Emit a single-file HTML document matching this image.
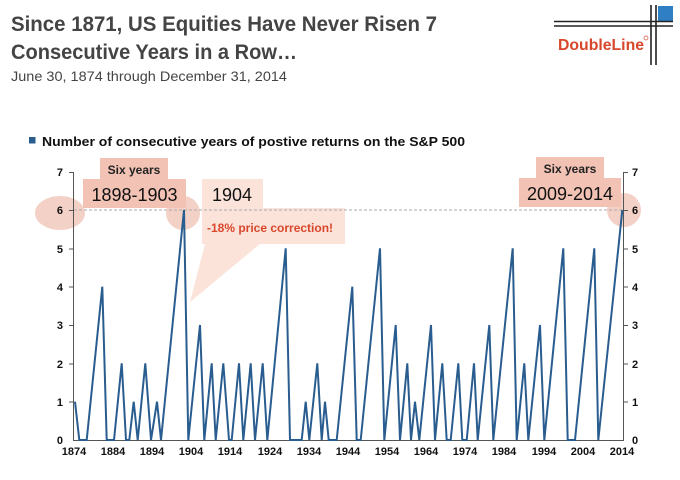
<!DOCTYPE html>
<html><head><meta charset="utf-8"><style>
html,body{margin:0;padding:0;background:#fff;}
svg{display:block;font-family:"Liberation Sans",sans-serif;}
</style></head><body>
<svg width="680" height="480" viewBox="0 0 680 480" xmlns="http://www.w3.org/2000/svg">
<!-- Title -->
<text x="11" y="31" font-size="21" font-weight="bold" fill="#444" textLength="426" lengthAdjust="spacingAndGlyphs">Since 1871, US Equities Have Never Risen 7</text>
<text x="11" y="59" font-size="21" font-weight="bold" fill="#444" textLength="286" lengthAdjust="spacingAndGlyphs">Consecutive Years in a Row…</text>
<text x="11" y="81" font-size="14" fill="#444" textLength="276" lengthAdjust="spacingAndGlyphs">June 30, 1874 through December 31, 2014</text>
<!-- Logo -->
<rect x="658" y="6" width="15" height="15" fill="#2f7fc4"/>
<line x1="554" y1="21.5" x2="673" y2="21.5" stroke="#222" stroke-width="1.6"/>
<line x1="554" y1="26" x2="673" y2="26" stroke="#222" stroke-width="1.6"/>
<line x1="651" y1="5" x2="651" y2="65" stroke="#222" stroke-width="1.6"/>
<line x1="656" y1="5" x2="656" y2="65" stroke="#222" stroke-width="1.6"/>
<text x="558" y="50" font-size="16" font-weight="bold" fill="#d9472b" textLength="86" lengthAdjust="spacingAndGlyphs">DoubleLine</text>
<circle cx="646" cy="38" r="2" fill="none" stroke="#d9472b" stroke-width="0.7"/>
<!-- Legend -->
<rect x="29" y="137" width="6.5" height="6.5" fill="#2a5d8f"/>
<text x="42" y="146" font-size="13" font-weight="bold" fill="#111" textLength="423" lengthAdjust="spacingAndGlyphs">Number of consecutive years of postive returns on the S&amp;P 500</text>
<!-- Annotations -->
<ellipse cx="60" cy="213" rx="25" ry="17" fill="#f2c9bc" opacity="0.85"/>
<circle cx="183" cy="213" r="17" fill="#f2c9bc" opacity="0.85"/>
<circle cx="624" cy="210" r="17" fill="#f2c9bc" opacity="0.85"/>
<polygon points="205,244 260,244 190,302" fill="#fbe3da"/>
<rect x="202" y="208" width="143" height="36" fill="#fbe3da"/>
<rect x="202" y="179" width="61" height="29" fill="#fbe3da"/>
<rect x="100" y="158" width="68" height="21" fill="#f2c3b4"/>
<rect x="83" y="179" width="103" height="29" fill="#f2c3b4"/>
<rect x="536" y="157" width="68" height="21" fill="#f2c3b4"/>
<rect x="519" y="178" width="102" height="29" fill="#f2c3b4"/>
<text x="134" y="174" font-size="12" font-weight="bold" fill="#222" text-anchor="middle">Six years</text>
<text x="134.5" y="201" font-size="18" fill="#111" text-anchor="middle">1898-1903</text>
<text x="232" y="201" font-size="18" fill="#111" text-anchor="middle">1904</text>
<text x="207" y="232" font-size="12" font-weight="bold" fill="#d9472b">-18% price correction!</text>
<text x="570" y="173" font-size="12" font-weight="bold" fill="#222" text-anchor="middle">Six years</text>
<text x="570" y="200" font-size="18" fill="#111" text-anchor="middle">2009-2014</text>
<!-- dashed line -->
<line x1="74" y1="210" x2="622" y2="210" stroke="#aaa" stroke-width="1" stroke-dasharray="3,2"/>
<!-- axes -->
<g stroke="#555" stroke-width="1">
<line x1="73.5" y1="172" x2="73.5" y2="440"/>
<line x1="623.5" y1="172" x2="623.5" y2="440"/>
<line x1="73" y1="440.5" x2="624" y2="440.5"/>
<line x1="69" y1="172.5" x2="73" y2="172.5"/><line x1="69" y1="210.5" x2="73" y2="210.5"/><line x1="69" y1="249" x2="73" y2="249"/><line x1="69" y1="287" x2="73" y2="287"/><line x1="69" y1="325.5" x2="73" y2="325.5"/><line x1="69" y1="364" x2="73" y2="364"/><line x1="69" y1="402" x2="73" y2="402"/>
<line x1="624" y1="172.5" x2="628" y2="172.5"/><line x1="624" y1="210.5" x2="628" y2="210.5"/><line x1="624" y1="249" x2="628" y2="249"/><line x1="624" y1="287" x2="628" y2="287"/><line x1="624" y1="325.5" x2="628" y2="325.5"/><line x1="624" y1="364" x2="628" y2="364"/><line x1="624" y1="402" x2="628" y2="402"/>
</g>
<g font-size="11" font-weight="bold" fill="#111">
<g text-anchor="end">
<text x="63" y="176">7</text><text x="63" y="214">6</text><text x="63" y="253">5</text><text x="63" y="291">4</text><text x="63" y="329">3</text><text x="63" y="368">2</text><text x="63" y="406">1</text><text x="63" y="444">0</text>
</g>
<text x="632" y="176">7</text><text x="632" y="214">6</text><text x="632" y="253">5</text><text x="632" y="291">4</text><text x="632" y="329">3</text><text x="632" y="368">2</text><text x="632" y="406">1</text><text x="632" y="444">0</text>
<g text-anchor="middle">
<text x="74" y="455">1874</text><text x="113" y="455">1884</text><text x="152" y="455">1894</text><text x="191" y="455">1904</text><text x="230" y="455">1914</text><text x="270" y="455">1924</text><text x="309" y="455">1934</text><text x="348" y="455">1944</text><text x="387" y="455">1954</text><text x="426" y="455">1964</text><text x="465" y="455">1974</text><text x="504" y="455">1984</text><text x="544" y="455">1994</text><text x="583" y="455">2004</text><text x="622" y="455">2014</text>
</g>
</g>
<!-- series -->
<polyline fill="none" stroke="#2a5d8f" stroke-width="2" stroke-linejoin="miter" points="75,401.7 79.3,440 86.7,440 102.3,286.7 106.7,440 114,440 121.7,363.3 126,440 129.3,440 133.7,401.7 137.7,440 145.3,363.3 151,440 157,401.7 161,440 184,210 188.3,440 200,325 204.3,440 211.7,363.3 215.7,440 223.3,363.3 229,440 231.7,440 239,363.3 243.3,440 250.7,363.3 255,440 262.7,363.3 267.3,440 285.7,248.3 290,440 301.7,440 305.7,401.7 309.3,440 317.3,363.3 321.7,440 325,401.7 328.7,440 336.7,440 352.3,286.7 356.7,440 360.7,440 380,248.3 384.3,440 395.7,325 400,440 407.3,363.3 411,440 415,401.7 419.3,440 431,325 435,440 442.3,363.3 446.7,440 450.7,440 458.3,363.3 462.3,440 466.7,440 474,363.3 477.7,440 489.3,325 493.3,440 512.7,248.3 516.7,440 524.3,363.3 528.3,440 540,325 544.3,440 563.3,248.3 567.7,440 575,440 594.3,248.3 598.3,440 622.3,210"/>
</svg>
</body></html>
